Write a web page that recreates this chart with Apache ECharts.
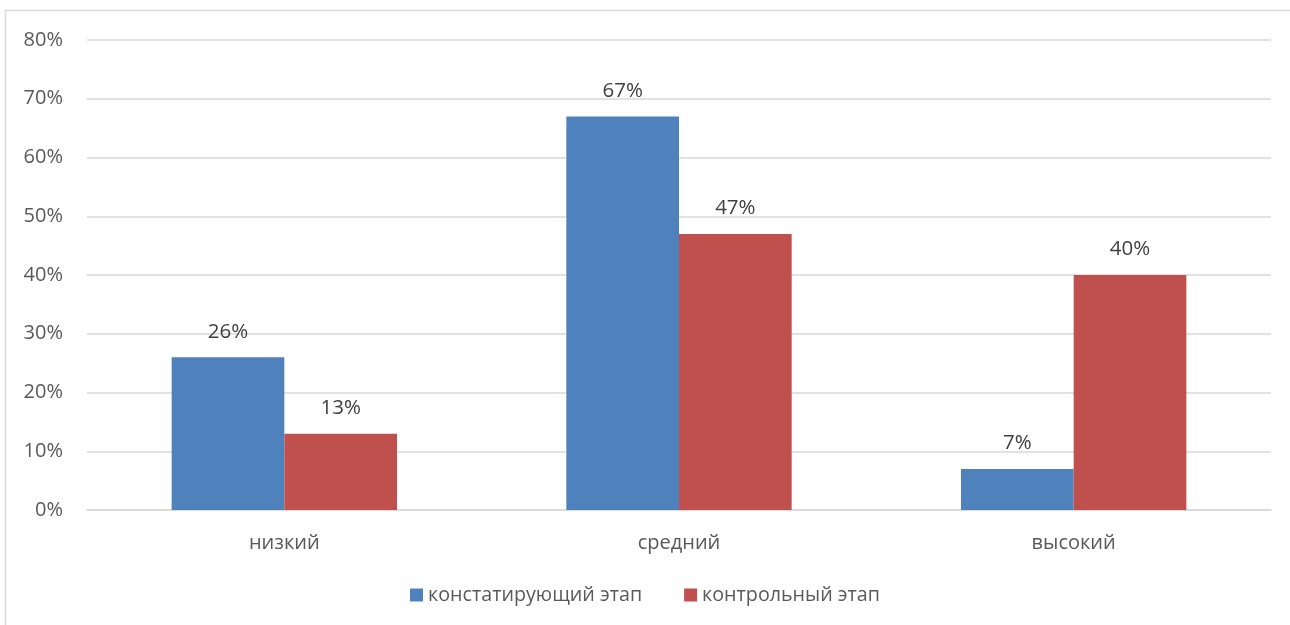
<!DOCTYPE html>
<html><head><meta charset="utf-8">
<script src="https://cdn.jsdelivr.net/npm/echarts@6/dist/echarts.min.js"></script>
<style>html,body{margin:0;padding:0;background:#fff}#c{width:1290px;height:625px}</style>
</head><body><div id="c"></div>
<script>
const categories = ['низкий', 'средний', 'высокий'];
const seriesNames = ['констатирующий этап', 'контрольный этап'];
const stage1 = [26, 67, 7];
const stage2 = [13, 47, 40];
const yTicks = [0, 10, 20, 30, 40, 50, 60, 70, 80];

const font = 'Open Sans';
const txt = '#595959';
const chart = echarts.init(document.getElementById('c'));
const label = {show: true, position: 'top', distance: 15, formatter: '{c}%', color: '#404040', fontSize: 20.5, fontFamily: font};
chart.setOption({
  animation: false,
  graphic: [{type: 'rect', shape: {x: 5.5, y: 10.5, width: 1400, height: 800}, style: {fill: 'none', stroke: '#d9d9d9', lineWidth: 1.5}, silent: true}],
  grid: {left: 87, right: 19, top: 40, bottom: 115},
  legend: {bottom: 15, left: 'center', itemWidth: 13, itemHeight: 13, itemGap: 42, icon: 'rect',
    textStyle: {color: txt, fontSize: 19.7, fontFamily: font}, data: seriesNames},
  xAxis: {type: 'category', data: categories,
    axisLine: {lineStyle: {color: '#d9d9d9', width: 1.5}}, axisTick: {show: false},
    axisLabel: {color: txt, fontSize: 20, fontFamily: font, margin: 23}},
  yAxis: {type: 'value', min: yTicks[0], max: yTicks[yTicks.length - 1], interval: 10,
    axisLine: {show: false}, axisTick: {show: false},
    splitLine: {lineStyle: {color: '#d9d9d9', width: 1.5}},
    axisLabel: {color: txt, fontSize: 20, fontFamily: font, margin: 24, formatter: '{value}%'}},
  series: [
    {name: seriesNames[0], type: 'bar', data: stage1, barWidth: '28.55%', barGap: '0%',
      itemStyle: {color: '#4F81BD'}, label: label},
    {name: seriesNames[1], type: 'bar', data: stage2, barWidth: '28.55%',
      itemStyle: {color: '#C0504D'}, label: label}
  ]
});
</script></body></html>
